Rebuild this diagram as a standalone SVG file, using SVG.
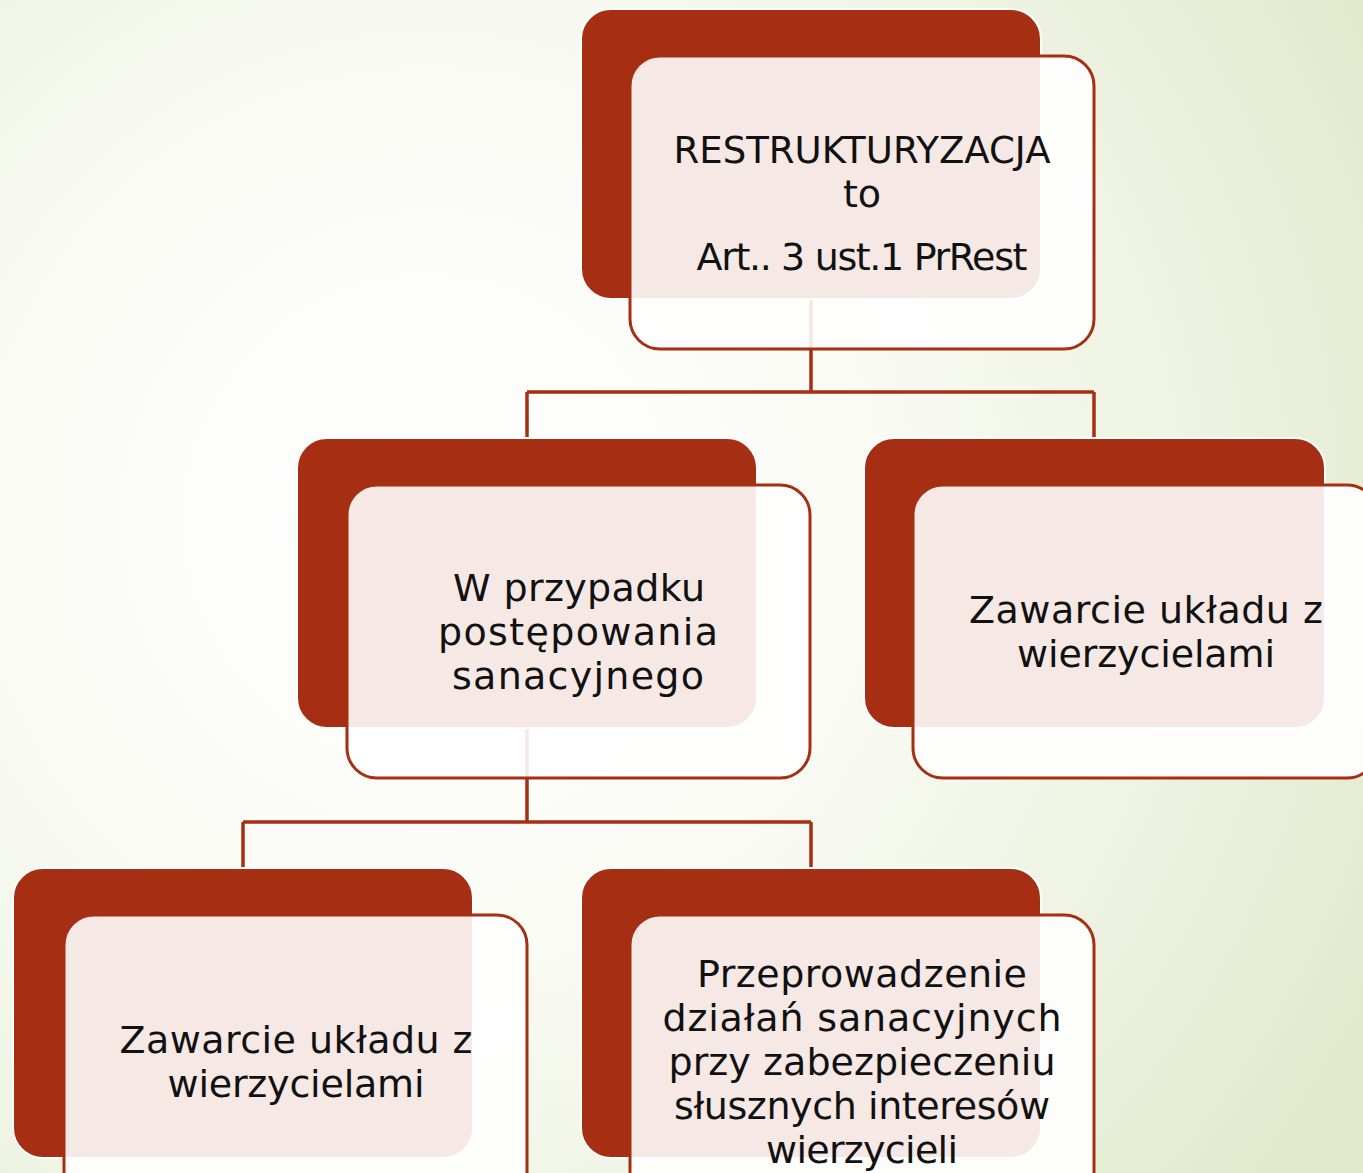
<svg xmlns="http://www.w3.org/2000/svg" width="1363" height="1173" viewBox="0 0 1363 1173">
<defs>
<radialGradient id="bg" gradientUnits="userSpaceOnUse" cx="430" cy="520" r="1050">
<stop offset="0" stop-color="#FFFFFE"/>
<stop offset="0.4" stop-color="#FAFBF5"/>
<stop offset="0.72" stop-color="#EEF3E2"/>
<stop offset="1" stop-color="#E1EACD"/>
</radialGradient>
<style>
.back{fill:#A62F13;stroke:#FFFFFF;stroke-width:2}
.front{fill:#FFFFFF;fill-opacity:0.89;stroke:#A62F13;stroke-width:3}
.conn{fill:none;stroke:#A62F13;stroke-width:3.5}
.lbl{font-family:"DejaVu Sans","Liberation Sans",sans-serif;font-size:38px;fill:#111111;text-anchor:middle}
</style>
</defs>
<rect x="0" y="0" width="1363" height="1173" fill="url(#bg)"/>
<g id="connectors">
<path class="conn" d="M811 298 V392 M527 392 H1094 M527 392 V438 M1094 392 V438"/>
<path class="conn" d="M527 728 V822 M243 822 H811 M243 822 V868 M811 822 V868"/>
</g>
<g id="node-root">
<rect class="back" x="581" y="9" width="460" height="290" rx="30"/>
<rect class="front" x="630" y="56" width="464" height="293" rx="30"/>
<text class="lbl" x="862" y="163" textLength="377" lengthAdjust="spacingAndGlyphs">RESTRUKTURYZACJA</text>
<text class="lbl" x="862" y="207">to</text>
<text class="lbl" x="862" y="270" textLength="331">Art.. 3 ust.1 PrRest</text>
</g>
<g id="node-sanacja">
<rect class="back" x="297" y="438" width="460" height="290" rx="30"/>
<rect class="front" x="347" y="485" width="463" height="293" rx="30"/>
<text class="lbl" x="579" y="601" textLength="252">W przypadku</text>
<text class="lbl" x="578" y="645" textLength="280">postępowania</text>
<text class="lbl" x="578" y="689" textLength="252">sanacyjnego</text>
</g>
<g id="node-uklad-right">
<rect class="back" x="864" y="438" width="461" height="290" rx="30"/>
<rect class="front" x="913" y="485" width="464" height="293" rx="30"/>
<text class="lbl" x="1146" y="623" textLength="354">Zawarcie układu z</text>
<text class="lbl" x="1146" y="667" textLength="258">wierzycielami</text>
</g>
<g id="node-uklad-left">
<rect class="back" x="13" y="868" width="460" height="290" rx="30"/>
<rect class="front" x="64" y="915" width="463" height="293" rx="30"/>
<text class="lbl" x="296" y="1053" textLength="353">Zawarcie układu z</text>
<text class="lbl" x="296" y="1097" textLength="257">wierzycielami</text>
</g>
<g id="node-dzialania">
<rect class="back" x="581" y="868" width="460" height="290" rx="30"/>
<rect class="front" x="630" y="915" width="464" height="293" rx="30"/>
<text class="lbl" x="862" y="987" textLength="330">Przeprowadzenie</text>
<text class="lbl" x="862" y="1031" textLength="399">działań sanacyjnych</text>
<text class="lbl" x="862" y="1075" textLength="387">przy zabezpieczeniu</text>
<text class="lbl" x="862" y="1119" textLength="376">słusznych interesów</text>
<text class="lbl" x="862" y="1163" textLength="192">wierzycieli</text>
</g>
</svg>
